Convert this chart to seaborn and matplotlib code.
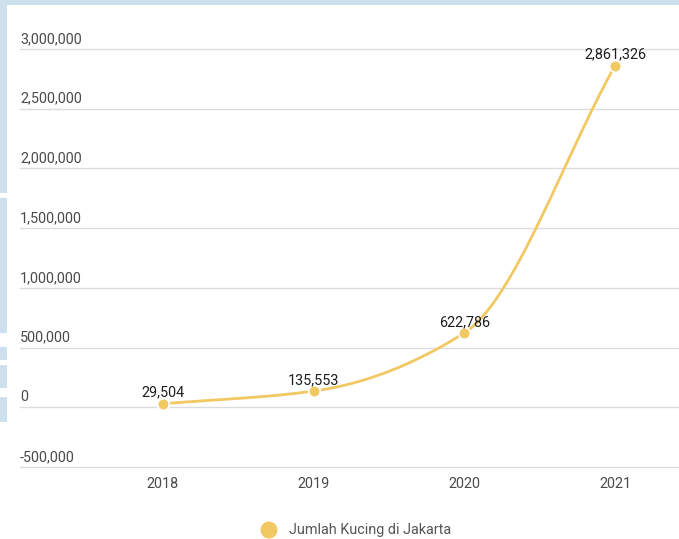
import numpy as np
import pandas as pd
import matplotlib
matplotlib.use("Agg")
import matplotlib.pyplot as plt
import seaborn as sns
from matplotlib.patches import Rectangle

# ---- data ----
years = ["2018", "2019", "2020", "2021"]
cats = [29504, 135553, 622786, 2861326]
series_name = "Jumlah Kucing di Jakarta"
yticks = [-500000, 0, 500000, 1000000, 1500000, 2000000, 2500000, 3000000]

LINE = "#f1c862"
GRID = "#dcdcdc"
TICK = "#4a4a4a"
BAND = "#cde0ee"

sns.set_theme(style="white")
plt.rcParams["font.family"] = ["Roboto", "DejaVu Sans"]

W, H = 679, 539
fig = plt.figure(figsize=(W / 100, H / 100), dpi=100)
fig.patch.set_facecolor("white")

# background watermark bands (top and left edges)
fig.patches.append(Rectangle((0, 1 - 5 / H), 1, 5 / H, transform=fig.transFigure,
                             facecolor=BAND, edgecolor="none", zorder=0))
for y0, y1 in [(0, 193), (198, 333), (347, 360), (365, 388), (397, 422)]:
    fig.patches.append(Rectangle((0, 1 - y1 / H), 7 / W, (y1 - y0) / H,
                                 transform=fig.transFigure, facecolor=BAND,
                                 edgecolor="none", zorder=0))

ax = fig.add_axes([0, 0, 1, 1])
ax.set_facecolor("none")
for s in ax.spines.values():
    s.set_visible(False)
ax.set_xticks([])
ax.set_yticks([])

px_x = 151.0           # pixels per category
x0_px = 163.0          # pixel of first category
px_per_unit = 418.0 / 3500000
zero_px = 49 + 3000000 * px_per_unit
ax.set_xlim(-x0_px / px_x, 3 + (W - 615) / px_x)
ax.set_ylim(-(H - zero_px) / px_per_unit, zero_px / px_per_unit)

xpos = np.arange(len(years))
df = pd.DataFrame({"x": xpos, "y": cats, "year": years})

# gridlines and y labels
xl = ax.get_xlim()
gx0 = xl[0] + 20 / px_x
for t in yticks:
    ax.plot([gx0, xl[1]], [t, t], color=GRID, lw=1.0, zorder=1)
    ax.text(gx0, t + 3 / px_per_unit, f"{t:,}", ha="left", va="bottom",
            fontsize=10.4, color=TICK)

# x labels
for xp, lab in zip(xpos, years):
    ax.text(xp, -500000 - 10 / px_per_unit, lab, ha="center", va="top",
            fontsize=10.4, color=TICK)

# smooth curve through the points (monotone cubic Hermite, rendering only)
def monotone_curve(x, y, n=60):
    x = np.asarray(x, float); y = np.asarray(y, float)
    h = np.diff(x); d = np.diff(y) / h
    m = np.zeros_like(y)
    m[0], m[-1] = d[0], d[-1]
    for i in range(1, len(y) - 1):
        if d[i - 1] * d[i] <= 0:
            m[i] = 0
        else:
            m[i] = 3 * (h[i - 1] + h[i]) / ((2 * h[i] + h[i - 1]) / d[i - 1] + (h[i] + 2 * h[i - 1]) / d[i])
    xs, ys = [], []
    for i in range(len(x) - 1):
        t = np.linspace(0, 1, n)
        h00 = 2 * t**3 - 3 * t**2 + 1
        h10 = t**3 - 2 * t**2 + t
        h01 = -2 * t**3 + 3 * t**2
        h11 = t**3 - t**2
        xs.append(x[i] + t * h[i])
        ys.append(h00 * y[i] + h10 * h[i] * m[i] + h01 * y[i + 1] + h11 * h[i] * m[i + 1])
    return np.concatenate(xs), np.concatenate(ys)

cx, cy = monotone_curve(df["x"], df["y"])
curve = pd.DataFrame({"x": cx, "y": cy})
sns.lineplot(data=curve, x="x", y="y", ax=ax, color=LINE, lw=2.0, zorder=3,
             sort=False, legend=False)
sns.scatterplot(data=df, x="x", y="y", ax=ax, color=LINE, s=70, edgecolor="white",
                linewidth=1.2, zorder=4, legend=False)
ax.set_xlabel(""); ax.set_ylabel("")
ax.set_xlim(xl)

for xp, v in zip(xpos, cats):
    ax.text(xp, v + 4 / px_per_unit, f"{v:,}", ha="center", va="bottom",
            fontsize=10.4, color="#1e1e1e", zorder=5)

# legend
ax.scatter([269 / W], [1 - 530 / H], s=150, color=LINE, edgecolor="none",
           transform=fig.transFigure, clip_on=False, zorder=6)
fig.text(289 / W, 1 - 530 / H, series_name, ha="left", va="center",
         fontsize=10.4, color="#555555")

fig.savefig("out.png", dpi=100, facecolor="white")
